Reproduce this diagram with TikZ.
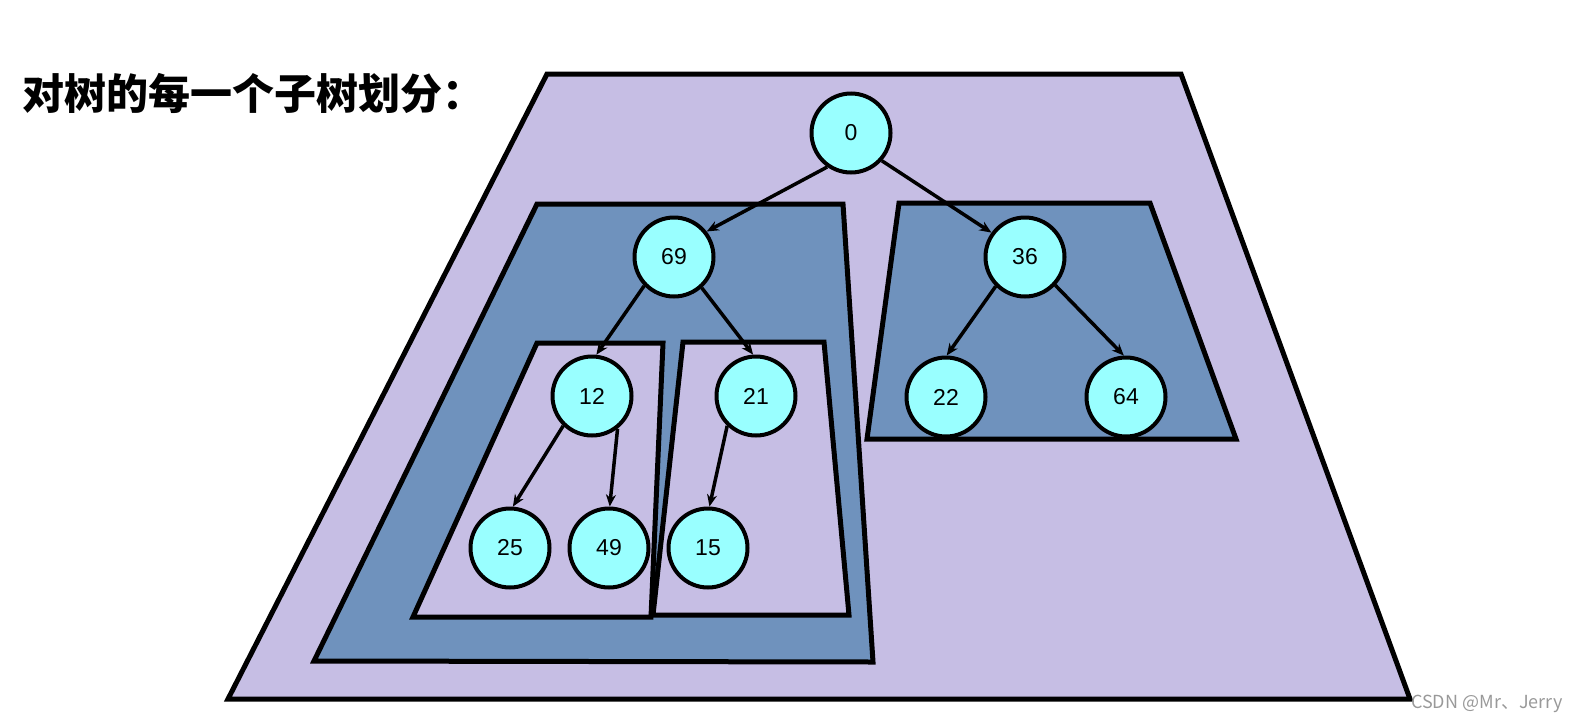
\documentclass[tikz,border=0pt]{standalone}
\usepackage{fontspec}
\setmainfont{Liberation Sans}
\newfontfamily\cjk{Noto Sans CJK SC}
\usetikzlibrary{arrows.meta}
\definecolor{lavender}{RGB}{198,190,228}
\definecolor{steel}{RGB}{111,146,189}
\definecolor{aqua}{RGB}{153,255,255}

\begin{document}
\begin{tikzpicture}[
    x=1pt, y=-1pt,
    treenode/.style={circle, draw=black, line width=4pt, fill=aqua, minimum size=79pt, inner sep=0pt, font=\fontsize{23}{25}\selectfont},
    outerpart/.style={draw=black, line width=5pt, fill=lavender},
    subpart/.style={draw=black, line width=5pt, fill=steel},
    link/.style={-{Stealth[length=12pt, width=10pt]}, line width=3.5pt}
]
\useasboundingbox (0,0) rectangle (1585,723);

% Title
\node[anchor=base west, inner sep=0pt, font=\cjk\bfseries\fontsize{42}{46}\selectfont] (title) at (22,109) {对树的每一个子树划分：};

% Partitions (outer -> inner)
\draw[outerpart] (547,74) -- (1181,74) -- (1410,699) -- (228,699) -- cycle;
\draw[subpart] (537,204) -- (843,204) -- (873,662) -- (314,661) -- cycle;
\draw[subpart] (899,203) -- (1150,203) -- (1236,439) -- (867,439) -- cycle;
\draw[outerpart] (537,343) -- (663,343) -- (651,617) -- (413,617) -- cycle;
\draw[outerpart] (683,342) -- (824,342) -- (849,615) -- (653,615) -- cycle;

% Tree nodes
\node[treenode] (n0)  at (851,133) {0};
\node[treenode] (n69) at (674,257) {69};
\node[treenode] (n36) at (1025,257) {36};
\node[treenode] (n12) at (592,396) {12};
\node[treenode] (n21) at (756,396) {21};
\node[treenode] (n22) at (946,397) {22};
\node[treenode] (n64) at (1126,397) {64};
\node[treenode] (n25) at (510,548) {25};
\node[treenode] (n49) at (609,548) {49};
\node[treenode] (n15) at (708,548) {15};

% Edges (parent's lower rim to child's top)
\draw[link] (n0.235) -- (n69.38);
\draw[link] (n0.318) -- (n36.144);
\draw[link] (n69.224) -- (n12.84);
\draw[link] (n69.312) -- (n21.94);
\draw[link] (n36.225) -- (n22.89);
\draw[link] (n36.317) -- (n64.93);
\draw[link] (n12.226) -- (n25.86);
\draw[link] (n12.308) -- (n49.89);
\draw[link] (n21.226) -- (n15.88);

% Watermark
\node[anchor=base west, inner sep=0pt, text=black!40, font=\cjk\fontsize{18}{20}\selectfont] (mark) at (1411,708) {CSDN @Mr、Jerry};

\end{tikzpicture}
\end{document}
